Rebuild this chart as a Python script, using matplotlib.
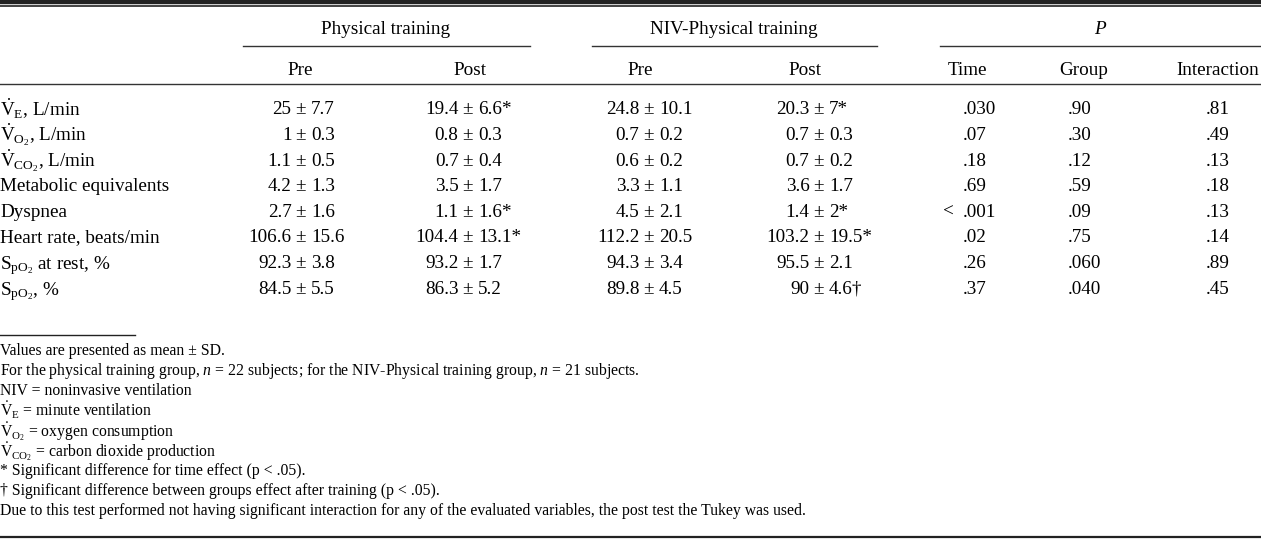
import matplotlib.pyplot as plt

plt.rcParams['font.family'] = 'Liberation Serif'
plt.rcParams['mathtext.fontset'] = 'custom'
plt.rcParams['mathtext.rm'] = 'Liberation Serif'
plt.rcParams['mathtext.it'] = 'Liberation Serif:italic'

# table contents
row_labels = [r'$\dot{\mathrm{V}}_{\mathrm{E}}$, L/min',
              r'$\dot{\mathrm{V}}_{\mathrm{O_2}}$, L/min',
              r'$\dot{\mathrm{V}}_{\mathrm{CO_2}}$, L/min',
              'Metabolic equivalents',
              'Dyspnea',
              'Heart rate, beats/min',
              r'$\mathrm{S_{pO_2}}$ at rest, %',
              r'$\mathrm{S_{pO_2}}$, %']

pt_pre_mean = ['25', '1', '1.1', '4.2', '2.7', '106.6', '92.3', '84.5']
pt_pre_sd = ['7.7', '0.3', '0.5', '1.3', '1.6', '15.6', '3.8', '5.5']
pt_post_mean = ['19.4', '0.8', '0.7', '3.5', '1.1', '104.4', '93.2', '86.3']
pt_post_sd = ['6.6*', '0.3', '0.4', '1.7', '1.6*', '13.1*', '1.7', '5.2']
niv_pre_mean = ['24.8', '0.7', '0.6', '3.3', '4.5', '112.2', '94.3', '89.8']
niv_pre_sd = ['10.1', '0.2', '0.2', '1.1', '2.1', '20.5', '3.4', '4.5']
niv_post_mean = ['20.3', '0.7', '0.7', '3.6', '1.4', '103.2', '95.5', '90']
niv_post_sd = ['7*', '0.3', '0.2', '1.7', '2*', '19.5*', '2.1', '4.6\u2020']

p_time = ['.030', '.07', '.18', '.69', '< .001', '.02', '.26', '.37']
p_group = ['.90', '.30', '.12', '.59', '.09', '.75', '.060', '.040']
p_inter = ['.81', '.49', '.13', '.18', '.13', '.14', '.89', '.45']

notes = ['Values are presented as mean \u00b1 SD.',
         r'For the physical training group, $n$ = 22 subjects; for the NIV-Physical training group, $n$ = 21 subjects.',
         'NIV = noninvasive ventilation',
         r'$\dot{\mathrm{V}}_{\mathrm{E}}$ = minute ventilation',
         r'$\dot{\mathrm{V}}_{\mathrm{O_2}}$ = oxygen consumption',
         r'$\dot{\mathrm{V}}_{\mathrm{CO_2}}$ = carbon dioxide production',
         '* Significant difference for time effect (p < .05).',
         '\u2020 Significant difference between groups effect after training (p < .05).',
         'Due to this test performed not having significant interaction for any of the evaluated variables, the post test the Tukey was used.']

W, H = 1261, 539
fig = plt.figure(figsize=(W / 100, H / 100), dpi=100)
ax = fig.add_axes([0, 0, 1, 1])
ax.set_xlim(0, W)
ax.set_ylim(H, 0)
ax.axis('off')

fs = 13.8
fn = 11.3

# rules
ax.plot([0, W], [1.5, 1.5], color='#222222', lw=3.2)
ax.plot([0, W], [6, 6], color='#222222', lw=1.2)
ax.plot([0, W], [84, 84], color='#333333', lw=1.0)
ax.plot([243, 530], [46, 46], color='#333333', lw=1.0)
ax.plot([592, 877], [46, 46], color='#333333', lw=1.0)
ax.plot([940, W], [46, 46], color='#333333', lw=1.0)
ax.plot([0, 135], [335, 335], color='#222222', lw=1.0)
ax.plot([0, W], [537, 537], color='#222222', lw=1.6)

# headers
ax.text(386, 34, 'Physical training', fontsize=fs, ha='center', va='baseline')
ax.text(734, 34, 'NIV-Physical training', fontsize=fs, ha='center', va='baseline')
ax.text(1100, 34, 'P', fontsize=fs, ha='center', va='baseline', style='italic')
for xc, lab in [(300, 'Pre'), (470, 'Post'), (640, 'Pre'), (805, 'Post'),
                (967, 'Time'), (1084, 'Group'), (1218, 'Interaction')]:
    ax.text(xc, 75, lab, fontsize=fs, ha='center', va='baseline')

# body
row_y = [114.5 + 25.6 * i for i in range(len(row_labels))]
pm_cols = [(300, pt_pre_mean, pt_pre_sd), (467, pt_post_mean, pt_post_sd),
           (648, niv_pre_mean, niv_pre_sd), (818, niv_post_mean, niv_post_sd)]
for i, y in enumerate(row_y):
    lab_y = y + 1.5 if row_labels[i].startswith('$') else y
    ax.text(0, lab_y, row_labels[i], fontsize=fs, ha='left', va='baseline')
    for xc, means, sds in pm_cols:
        ax.text(xc - 8.5, y, means[i], fontsize=fs, ha='right', va='baseline')
        ax.text(xc, y, '\u00b1', fontsize=fs, ha='center', va='baseline')
        ax.text(xc + 11, y, sds[i], fontsize=fs, ha='left', va='baseline')
    t = p_time[i]
    if t.startswith('<'):
        ax.text(943, y, '<', fontsize=fs, ha='left', va='baseline')
        t = t[2:]
    ax.text(963, y, t, fontsize=fs, ha='left', va='baseline')
    ax.text(1068, y, p_group[i], fontsize=fs, ha='left', va='baseline')
    ax.text(1206, y, p_inter[i], fontsize=fs, ha='left', va='baseline')

# footnotes
for j, note in enumerate(notes):
    dy = 1.5 if note.startswith('$') else 0
    ax.text(0, 355 + 20 * j + dy, note, fontsize=fn, ha='left', va='baseline')

fig.savefig('out.png', dpi=100)
